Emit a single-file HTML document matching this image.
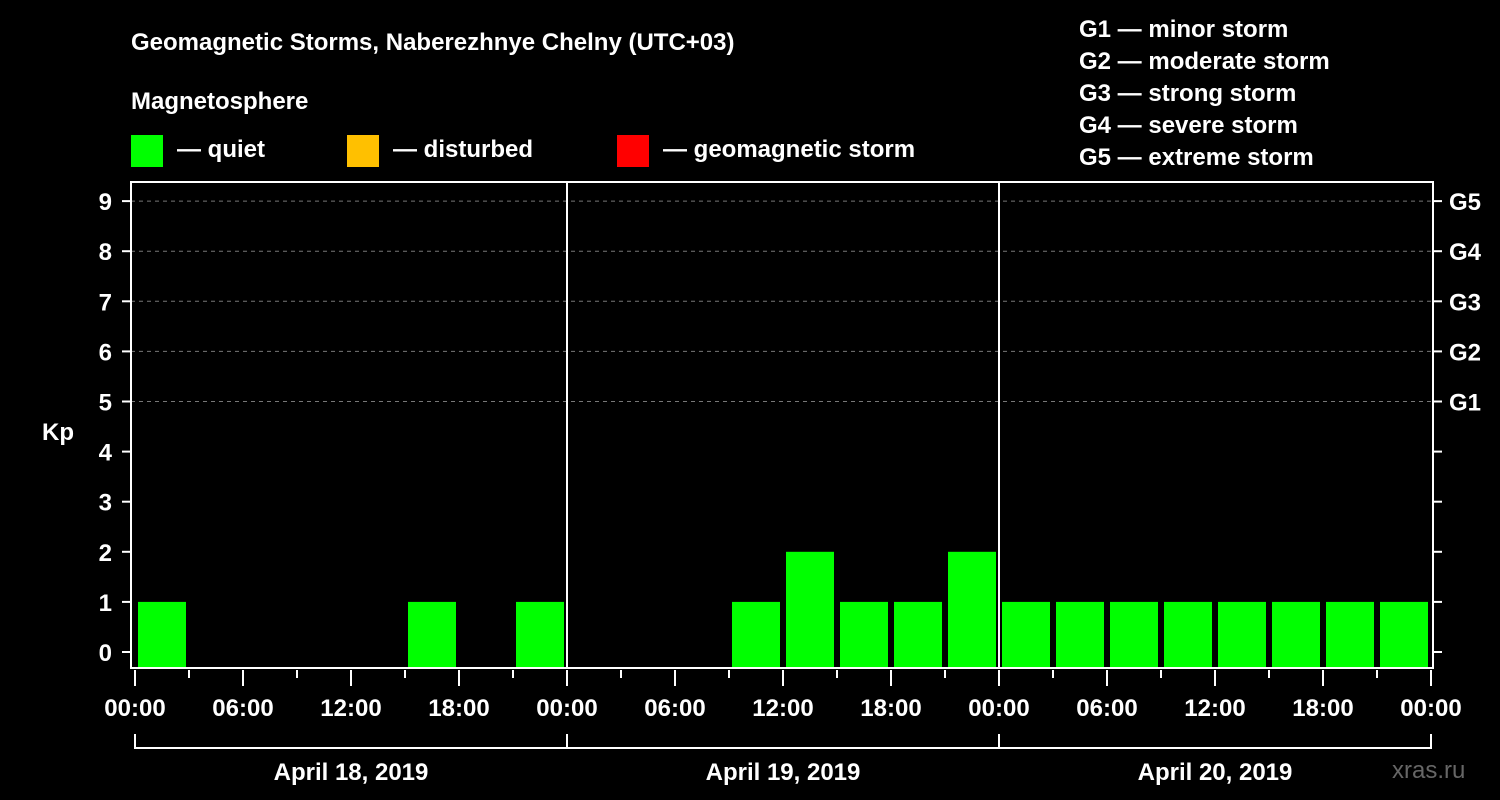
<!DOCTYPE html>
<html><head><meta charset="utf-8"><style>
html,body{margin:0;padding:0;background:#000;}
svg{display:block;font-family:"Liberation Sans",Arial,sans-serif;font-weight:bold;}
</style></head><body>
<svg id="chart" width="1500" height="800" viewBox="0 0 1500 800">
<text x="131" y="50" fill="#fff" font-size="24">Geomagnetic Storms, Naberezhnye Chelny (UTC+03)</text>
<text x="131" y="109" fill="#fff" font-size="24">Magnetosphere</text>
<g><rect x="131" y="135" width="32" height="32" fill="#00ff00"/><text x="177" y="157" fill="#fff" font-size="24">— quiet</text></g>
<g><rect x="347" y="135" width="32" height="32" fill="#ffc000"/><text x="393" y="157" fill="#fff" font-size="24">— disturbed</text></g>
<g><rect x="617" y="135" width="32" height="32" fill="#ff0000"/><text x="663" y="157" fill="#fff" font-size="24">— geomagnetic storm</text></g>
<g fill="#fff" font-size="24">
<text x="1079" y="37">G1 — minor storm</text>
<text x="1079" y="69">G2 — moderate storm</text>
<text x="1079" y="101">G3 — strong storm</text>
<text x="1079" y="133">G4 — severe storm</text>
<text x="1079" y="165">G5 — extreme storm</text>
</g>
<text x="42" y="440" fill="#fff" font-size="24">Kp</text>
<text x="1392" y="778" fill="#666" font-size="24" font-weight="normal">xras.ru</text>
<g id="plot"></g>
</svg>
<script>
const days = ["April 18, 2019","April 19, 2019","April 20, 2019"];
const kpValues = [1,0,0,0,0,1,0,1, 0,0,0,1,2,1,1,2, 1,1,1,1,1,1,1,1];
const yTicks = [0,1,2,3,4,5,6,7,8,9];
const gLabels = ["G1","G2","G3","G4","G5"];
const xTickLabels = ["00:00","06:00","12:00","18:00","00:00","06:00","12:00","18:00","00:00","06:00","12:00","18:00","00:00"];

const NS="http://www.w3.org/2000/svg";
const g=document.getElementById('plot');
const L=131,R=1433,T=182,B=668,X0=135,SLOT=54;
const y=v=>652-v*50.1;
const x=i=>X0+i*SLOT;
function mk(tag,attrs,parent){const e=document.createElementNS(NS,tag);for(const k in attrs)e.setAttribute(k,attrs[k]);(parent||g).appendChild(e);return e;}
function color(v){return v>=5?"#ff0000":v>=4?"#ffc000":"#00ff00";}

// grid
for(let v=5;v<=9;v++){const l=mk('line',{x1:L,x2:R,y1:y(v),y2:y(v),stroke:'#777','stroke-dasharray':'4,4','stroke-width':1});

}
// bars
kpValues.forEach((v,i)=>{if(v<=0)return;
const r=mk('rect',{x:x(i)+3,y:y(v),width:48,height:B-y(v),fill:color(v)});

});
// frame
const fr=mk('rect',{x:L,y:T,width:R-L,height:B-T,fill:'none',stroke:'#fff','stroke-width':2});


for(let d=1;d<days.length;d++){const l=mk('line',{x1:x(d*8),x2:x(d*8),y1:T,y2:B,stroke:'#fff','stroke-width':2});

}
// y ticks
yTicks.forEach(v=>{
mk('line',{x1:122,x2:L,y1:y(v),y2:y(v),stroke:'#fff','stroke-width':2});
mk('line',{x1:R,x2:1442,y1:y(v),y2:y(v),stroke:'#fff','stroke-width':2});
const t=mk('text',{x:112,y:y(v)+9,fill:'#fff','font-size':24,'text-anchor':'end'});t.textContent=v;

});
gLabels.forEach((s,i)=>{const t=mk('text',{x:1449,y:y(5+i)+9,fill:'#fff','font-size':24});t.textContent=s;

});
// x ticks
for(let i=0;i<=kpValues.length;i++){const major=i%2===0;
mk('line',{x1:x(i),x2:x(i),y1:B+2,y2:major?686:678,stroke:'#fff','stroke-width':2});
if(major){const t=mk('text',{x:x(i),y:716,fill:'#fff','font-size':24,'text-anchor':'middle'});t.textContent=xTickLabels[i/2];

}}
// date bracket
mk('line',{x1:x(0),x2:x(kpValues.length),y1:748,y2:748,stroke:'#fff','stroke-width':2});
for(let d=0;d<=days.length;d++)mk('line',{x1:x(d*8),x2:x(d*8),y1:734,y2:749,stroke:'#fff','stroke-width':2});
days.forEach((s,d)=>{const t=mk('text',{x:x(d*8+4),y:780,fill:'#fff','font-size':24,'text-anchor':'middle'});t.textContent=s;

});
</script>
</body></html>
